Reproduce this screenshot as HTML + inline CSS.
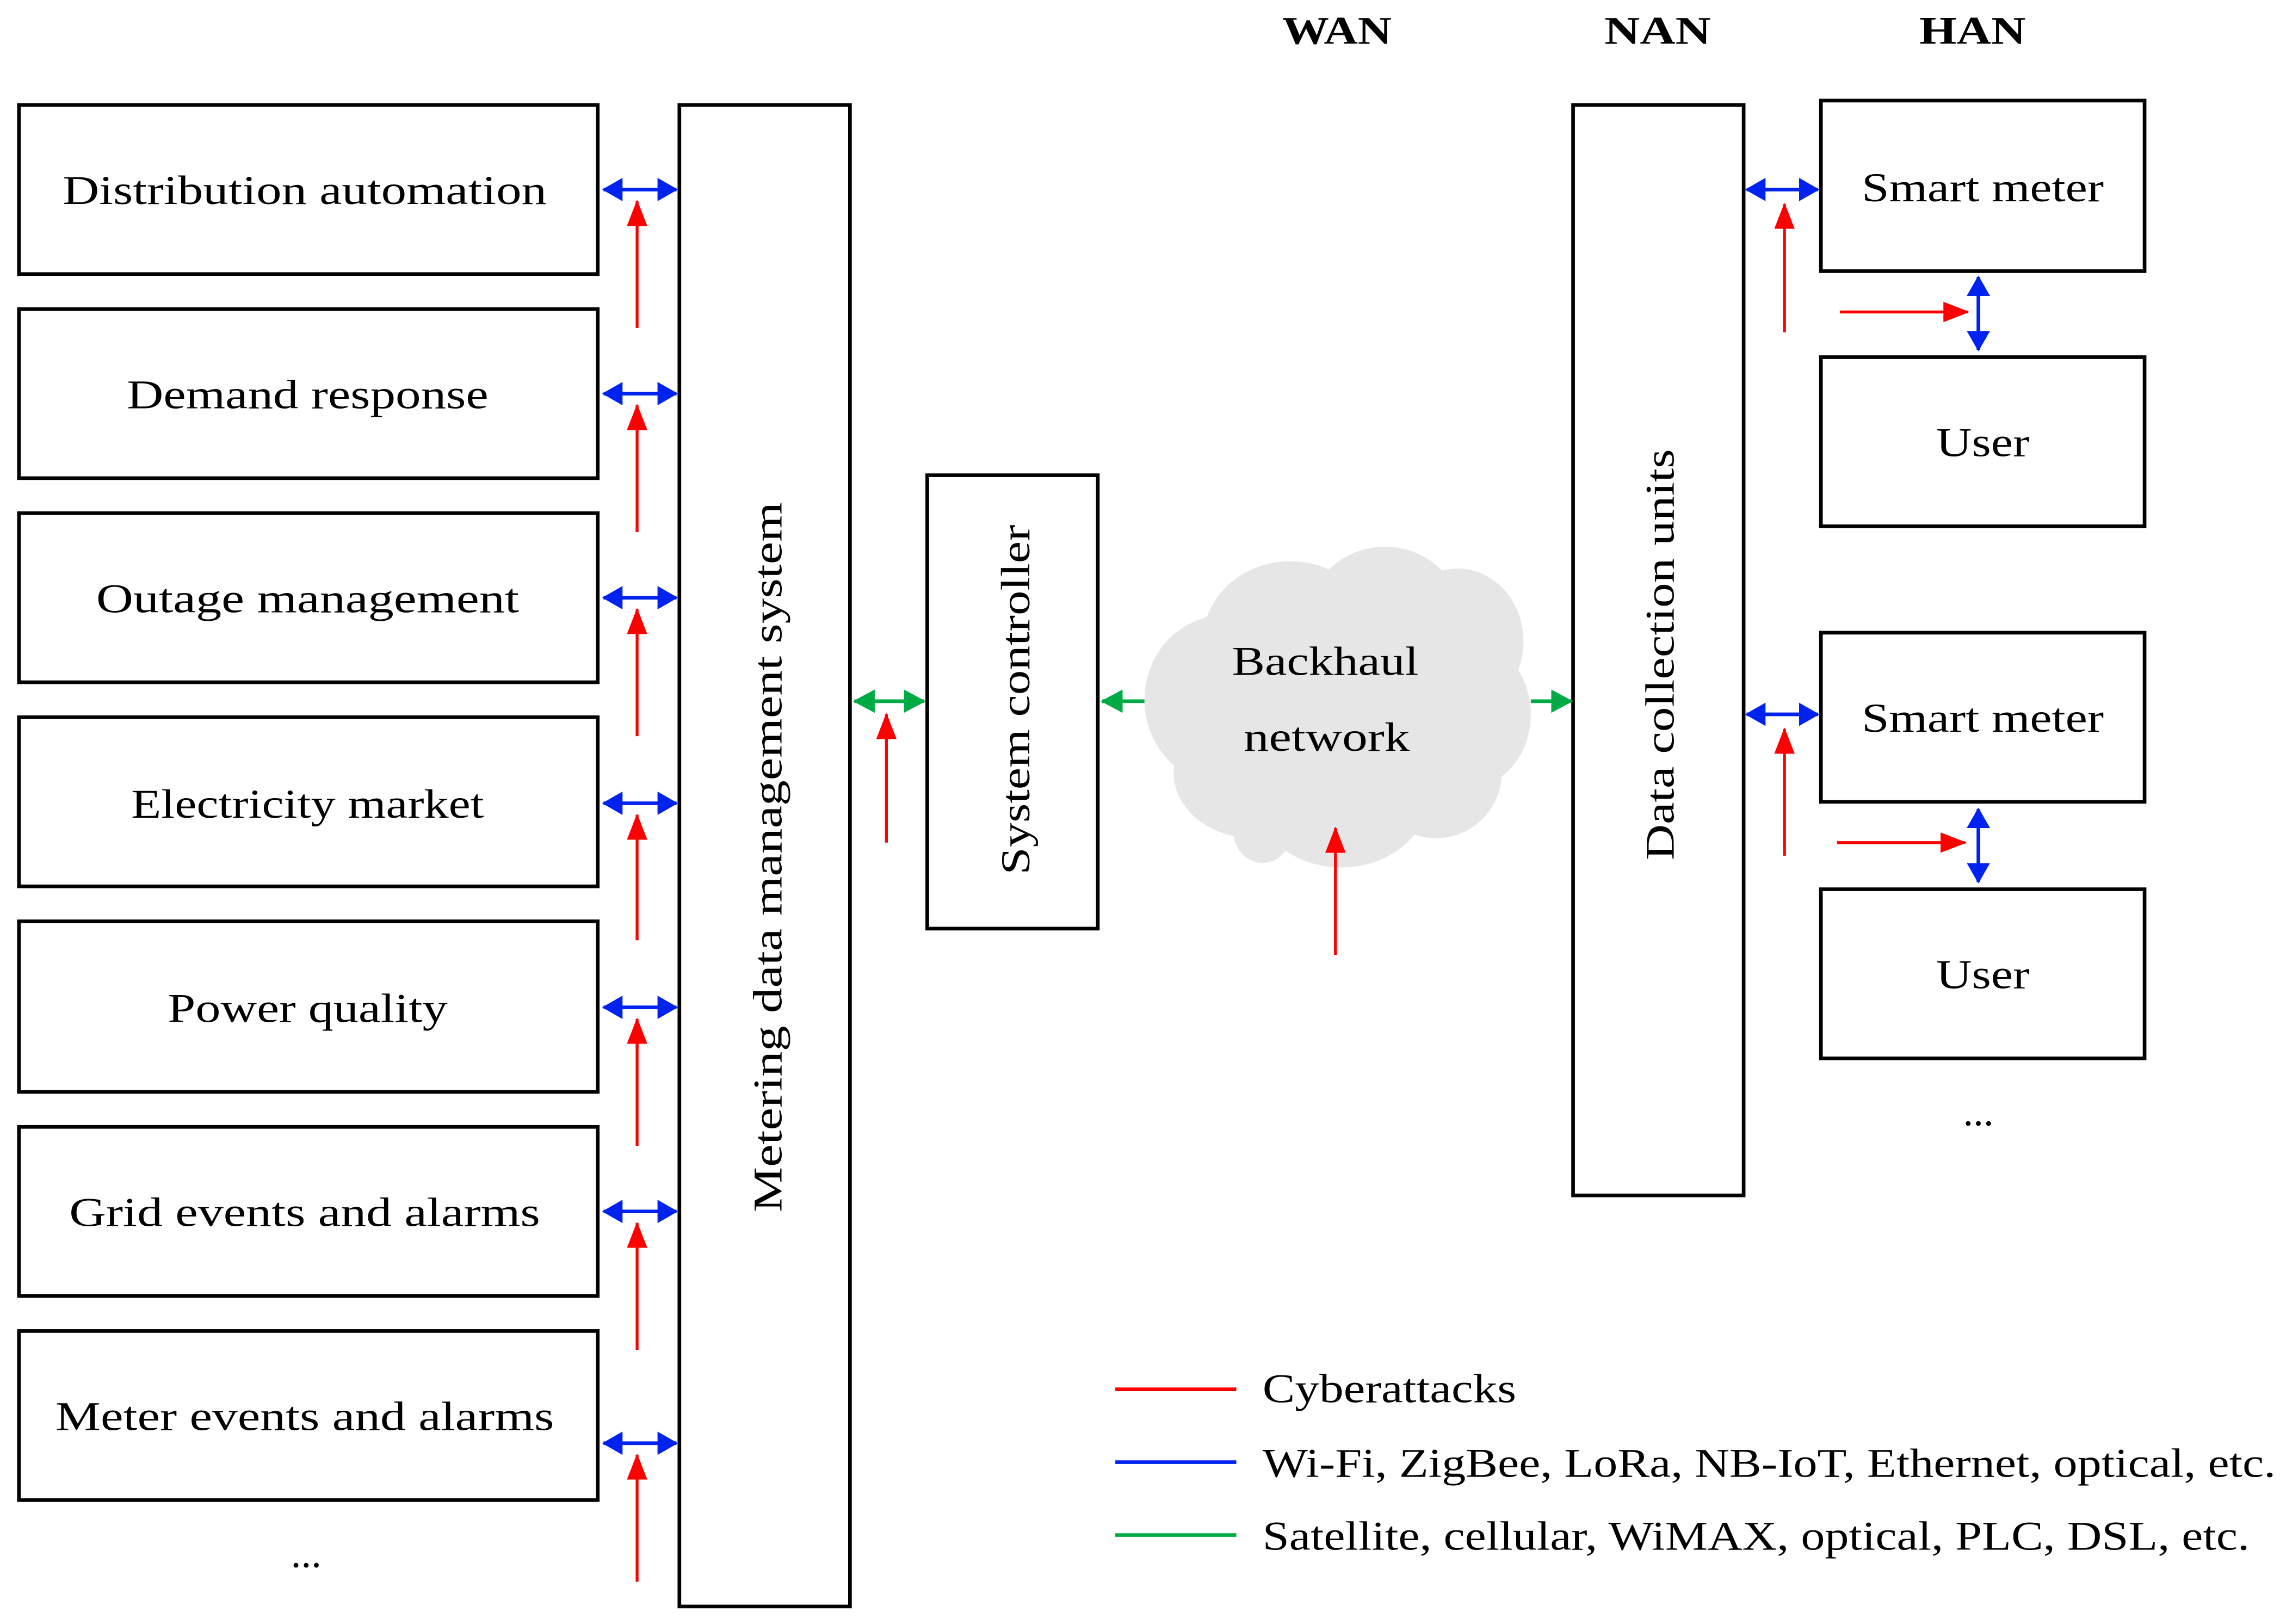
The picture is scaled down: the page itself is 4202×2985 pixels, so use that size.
<!DOCTYPE html>
<html><head><meta charset="utf-8"><style>html,body{margin:0;padding:0;background:#fff}svg{display:block}</style></head><body>
<svg width="4202" height="2985" viewBox="0 0 1568 1114" preserveAspectRatio="none" xmlns="http://www.w3.org/2000/svg" font-family="'Liberation Serif', serif" font-size="28" fill="#000">
<defs>
<marker id="bh" viewBox="0 0 14 16" refX="13" refY="8" markerWidth="14" markerHeight="16" orient="auto-start-reverse" markerUnits="userSpaceOnUse"><path d="M0,0 L14,8 L0,16 z" fill="#0022ee"/></marker>
<marker id="rh" viewBox="0 0 18 14" refX="17" refY="7" markerWidth="18" markerHeight="14" orient="auto" markerUnits="userSpaceOnUse"><path d="M0,0 L18,7 L0,14 z" fill="#ff0000"/></marker>
<marker id="gh" viewBox="0 0 15 16" refX="14" refY="8" markerWidth="15" markerHeight="16" orient="auto-start-reverse" markerUnits="userSpaceOnUse"><path d="M0,0 L15,8 L0,16 z" fill="#00aa44"/></marker>
</defs>
<g font-weight="bold" font-size="27" text-anchor="middle">
<text x="917" y="30" textLength="75" lengthAdjust="spacingAndGlyphs">WAN</text><text x="1137" y="30" textLength="73" lengthAdjust="spacingAndGlyphs">NAN</text><text x="1353" y="30" textLength="73" lengthAdjust="spacingAndGlyphs">HAN</text>
</g>
<g fill="#fff" stroke="#000" stroke-width="2.5">
<rect x="13" y="72" width="397" height="116"/>
<rect x="13" y="212" width="397" height="116"/>
<rect x="13" y="352" width="397" height="116"/>
<rect x="13" y="492" width="397" height="116"/>
<rect x="13" y="632" width="397" height="117"/>
<rect x="13" y="773" width="397" height="116"/>
<rect x="13" y="913" width="397" height="116"/>
<rect x="466" y="72" width="117" height="1030"/>
<rect x="636" y="326" width="117" height="311"/>
<rect x="1079" y="72" width="117" height="748"/>
<rect x="1249" y="69" width="222" height="117"/>
<rect x="1249" y="245" width="222" height="116"/>
<rect x="1249" y="434" width="222" height="116"/>
<rect x="1249" y="610" width="222" height="116"/>
</g>
<g text-anchor="middle">
<text x="209" y="140" textLength="332" lengthAdjust="spacingAndGlyphs">Distribution automation</text>
<text x="211" y="280" textLength="248" lengthAdjust="spacingAndGlyphs">Demand response</text>
<text x="211" y="420" textLength="290" lengthAdjust="spacingAndGlyphs">Outage management</text>
<text x="211" y="561" textLength="242" lengthAdjust="spacingAndGlyphs">Electricity market</text>
<text x="211" y="701" textLength="192" lengthAdjust="spacingAndGlyphs">Power quality</text>
<text x="209" y="841" textLength="323" lengthAdjust="spacingAndGlyphs">Grid events and alarms</text>
<text x="209" y="981" textLength="342" lengthAdjust="spacingAndGlyphs">Meter events and alarms</text>
<text x="210" y="1075">...</text>
<text x="1360" y="138" textLength="166" lengthAdjust="spacingAndGlyphs">Smart meter</text>
<text x="1360" y="313" textLength="64" lengthAdjust="spacingAndGlyphs">User</text>
<text x="1360" y="502" textLength="166" lengthAdjust="spacingAndGlyphs">Smart meter</text>
<text x="1360" y="678" textLength="64" lengthAdjust="spacingAndGlyphs">User</text>
<text x="1357" y="772">...</text>
<text transform="translate(536,588) rotate(-90)" textLength="487" lengthAdjust="spacingAndGlyphs">Metering data management system</text>
<text transform="translate(706,480) rotate(-90)" textLength="240" lengthAdjust="spacingAndGlyphs">System controller</text>
<text transform="translate(1148,449) rotate(-90)" textLength="282" lengthAdjust="spacingAndGlyphs">Data collection units</text>
</g>
<g fill="#e6e6e6">
<ellipse cx="840" cy="480" rx="55" ry="58"/>
<ellipse cx="860" cy="530" rx="55" ry="45"/>
<ellipse cx="885" cy="440" rx="60" ry="55"/>
<ellipse cx="950" cy="430" rx="55" ry="55"/>
<ellipse cx="1000" cy="440" rx="45" ry="50"/>
<ellipse cx="1008" cy="490" rx="42" ry="50"/>
<ellipse cx="985" cy="530" rx="45" ry="45"/>
<ellipse cx="920" cy="545" rx="60" ry="50"/>
<ellipse cx="920" cy="480" rx="90" ry="70"/>
<ellipse cx="866" cy="570" rx="20" ry="22"/>
</g>
<g text-anchor="middle"><text x="909" y="463" textLength="128" lengthAdjust="spacingAndGlyphs">Backhaul</text><text x="910" y="515" textLength="114" lengthAdjust="spacingAndGlyphs">network</text></g>
<g stroke="#0022ee" stroke-width="2.5" marker-start="url(#bh)" marker-end="url(#bh)">
<line x1="414" y1="130" x2="464" y2="130"/><line x1="414" y1="270" x2="464" y2="270"/>
<line x1="414" y1="410" x2="464" y2="410"/><line x1="414" y1="551" x2="464" y2="551"/>
<line x1="414" y1="691" x2="464" y2="691"/><line x1="414" y1="831" x2="464" y2="831"/>
<line x1="414" y1="990" x2="464" y2="990"/>
<line x1="1198" y1="130" x2="1247" y2="130"/><line x1="1198" y1="490" x2="1247" y2="490"/>
<line x1="1357" y1="190" x2="1357" y2="240"/><line x1="1357" y1="555" x2="1357" y2="605"/>
</g>
<g stroke="#00aa44" stroke-width="2.5">
<line x1="586" y1="481" x2="634" y2="481" marker-start="url(#gh)" marker-end="url(#gh)"/>
<line x1="785" y1="481" x2="756" y2="481" marker-end="url(#gh)"/>
<line x1="1050" y1="481" x2="1078" y2="481" marker-end="url(#gh)"/>
</g>
<g stroke="#ff0000" stroke-width="2" marker-end="url(#rh)">
<line x1="437" y1="225" x2="437" y2="138"/><line x1="437" y1="365" x2="437" y2="278"/>
<line x1="437" y1="505" x2="437" y2="418"/><line x1="437" y1="645" x2="437" y2="559"/>
<line x1="437" y1="786" x2="437" y2="699"/><line x1="437" y1="926" x2="437" y2="839"/>
<line x1="437" y1="1085" x2="437" y2="998"/>
<line x1="608" y1="578" x2="608" y2="490"/>
<line x1="916" y1="655" x2="916" y2="568"/>
<line x1="1224" y1="228" x2="1224" y2="140"/><line x1="1224" y1="587" x2="1224" y2="500"/>
<line x1="1262" y1="214" x2="1350" y2="214"/><line x1="1260" y1="578" x2="1348" y2="578"/>
</g>
<line x1="765" y1="953" x2="848" y2="953" stroke="#ff0000" stroke-width="2.5"/>
<line x1="765" y1="1003" x2="848" y2="1003" stroke="#0022ee" stroke-width="2.5"/>
<line x1="765" y1="1053" x2="848" y2="1053" stroke="#00aa44" stroke-width="2.5"/>
<text x="866" y="962" textLength="174" lengthAdjust="spacingAndGlyphs">Cyberattacks</text>
<text x="866" y="1013" textLength="695" lengthAdjust="spacingAndGlyphs">Wi-Fi, ZigBee, LoRa, NB-IoT, Ethernet, optical, etc.</text>
<text x="866" y="1063" textLength="677" lengthAdjust="spacingAndGlyphs">Satellite, cellular, WiMAX, optical, PLC, DSL, etc.</text>
</svg>
</body></html>
